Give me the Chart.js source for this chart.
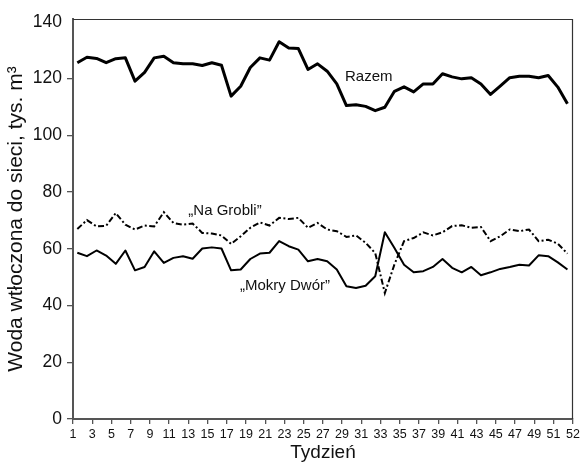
<!DOCTYPE html>
<html><head><meta charset="utf-8">
<script src="https://cdn.jsdelivr.net/npm/chart.js@4.4.1/dist/chart.umd.min.js"></script>
<style>html,body{margin:0;padding:0;background:#fff}#wrap{width:584px;height:464px}</style>
</head><body><div id="wrap"><canvas id="c" width="584" height="464"></canvas></div>
<script>
const weeks = Array.from({length: 52}, (_, i) => i + 1);
const razem = [125.6,127.5,127.1,125.6,127.0,127.3,119.1,122.2,127.3,127.9,125.6,125.2,125.2,124.6,125.6,124.7,113.8,117.3,123.9,127.3,126.5,133.0,130.8,130.6,123.2,125.2,122.6,118.1,110.5,110.8,110.2,108.7,109.9,115.5,117.1,115.3,118.1,118.1,121.7,120.6,119.9,120.3,118.1,114.4,117.3,120.3,120.8,120.8,120.3,121.1,117.0,111.1];
const naGrobli = [67.0,70.1,67.9,68.1,72.6,68.5,66.8,68.2,67.9,72.9,69.1,68.5,68.9,65.6,65.4,64.7,61.7,64.4,67.4,69.3,68.2,70.9,70.5,70.9,67.4,69.1,66.8,66.2,64.2,64.7,62.1,58.5,44.4,54.5,62.7,63.8,65.8,64.7,65.8,68.0,68.3,67.4,67.7,62.7,64.4,66.8,66.2,66.8,62.7,63.2,61.8,58.3];
const mokryDwor = [58.6,57.4,59.4,57.6,54.7,59.4,52.4,53.6,59.1,55.0,56.8,57.4,56.5,60.1,60.5,60.1,52.4,52.7,56.4,58.3,58.6,62.7,60.9,59.7,55.6,56.4,55.6,52.7,46.8,46.2,47.0,50.3,65.8,60.3,54.4,51.7,52.1,53.6,56.4,53.3,51.7,53.6,50.7,51.7,52.9,53.6,54.4,54.1,57.7,57.4,55.2,52.7];
const xTickWeeks = [1,3,5,7,9,11,13,15,17,19,21,23,25,27,29,31,33,35,37,39,41,43,45,47,49,51,52];
const yTicks = [0,20,40,60,80,100,120,140];
const seriesNames = ['Razem', '„Na Grobli”', '„Mokry Dwór”'];
const labelAnchors = [[28.85,120.7],[12.55,73.2],[17.93,47.0]];
const xTitle = 'Tydzień';
const yTitle = 'Woda wtłoczona do sieci, tys. m³';

const FONT = '"Liberation Sans", Arial, Helvetica, sans-serif';
const toXY = arr => weeks.map((w, i) => ({x: w, y: arr[i]}));

const framePlugin = {
  id: 'frame',
  afterDatasetsDraw(chart) {
    const {ctx, chartArea: a, scales} = chart;
    ctx.save();
    ctx.strokeStyle = '#333';
    ctx.lineWidth = 1.2;
    ctx.beginPath();
    ctx.moveTo(a.left, a.top + 0.5);
    ctx.lineTo(a.right - 0.5, a.top + 0.5);
    ctx.lineTo(a.right - 0.5, a.bottom);
    ctx.stroke();
    ctx.fillStyle = '#111';
    ctx.font = '15px ' + FONT;
    ctx.textAlign = 'left';
    ctx.textBaseline = 'middle';
    seriesNames.forEach((t, i) => {
      const [vx, vy] = labelAnchors[i];
      ctx.fillText(t, scales.x.getPixelForValue(vx), scales.y.getPixelForValue(vy));
    });
    ctx.restore();
  }
};

new Chart(document.getElementById('c'), {
  type: 'line',
  data: {
    datasets: [
      {label: seriesNames[0], data: toXY(razem), borderColor: '#000', borderWidth: 3, pointRadius: 0, tension: 0, borderJoinStyle: 'round'},
      {label: seriesNames[1], data: toXY(naGrobli), borderColor: '#000', borderWidth: 2, borderDash: [6,2.5,2,2.5], pointRadius: 0, tension: 0},
      {label: seriesNames[2], data: toXY(mokryDwor), borderColor: '#000', borderWidth: 2, pointRadius: 0, tension: 0, borderJoinStyle: 'round'}
    ]
  },
  options: {
    responsive: false,
    animation: false,
    devicePixelRatio: 1,
    layout: {padding: {top: 19, right: 11, left: 0, bottom: 0}},
    plugins: {legend: {display: false}, tooltip: {enabled: false}},
    scales: {
      x: {
        type: 'linear',
        min: 0.55,
        max: 52.58,
        afterBuildTicks: s => { s.ticks = xTickWeeks.map(w => ({value: w === 52 ? s.max : w - 0.45})); },
        afterFit: s => { s.height = 45; },
        ticks: {autoSkip: false, maxRotation: 0, minRotation: 0, padding: 3, color: '#111', font: {family: FONT, size: 12.5}, callback: (v, i) => String(xTickWeeks[i])},
        grid: {drawOnChartArea: false, drawTicks: true, tickLength: 5, color: '#555', lineWidth: 1.3},
        border: {display: true, color: '#555', width: 2},
        title: {display: true, text: xTitle, color: '#111', font: {family: FONT, size: 19}, padding: {top: 0, bottom: 0}}
      },
      y: {
        min: 0,
        max: 141,
        afterBuildTicks: s => { s.ticks = yTicks.map(v => ({value: v})); },
        afterFit: s => { s.width = 73; },
        ticks: {padding: 5, color: '#111', font: {family: FONT, size: 17.5}},
        grid: {drawOnChartArea: false, drawTicks: true, tickLength: 6, lineWidth: 1.3,
               color: c => (c.tick && c.tick.value === 140) ? 'rgba(0,0,0,0)' : '#555'},
        border: {display: true, color: '#555', width: 2},
        title: {display: true, text: yTitle, color: '#111', font: {family: FONT, size: 21}, padding: {top: 4, bottom: 0}}
      }
    }
  },
  plugins: [framePlugin]
});
</script>
</body></html>
